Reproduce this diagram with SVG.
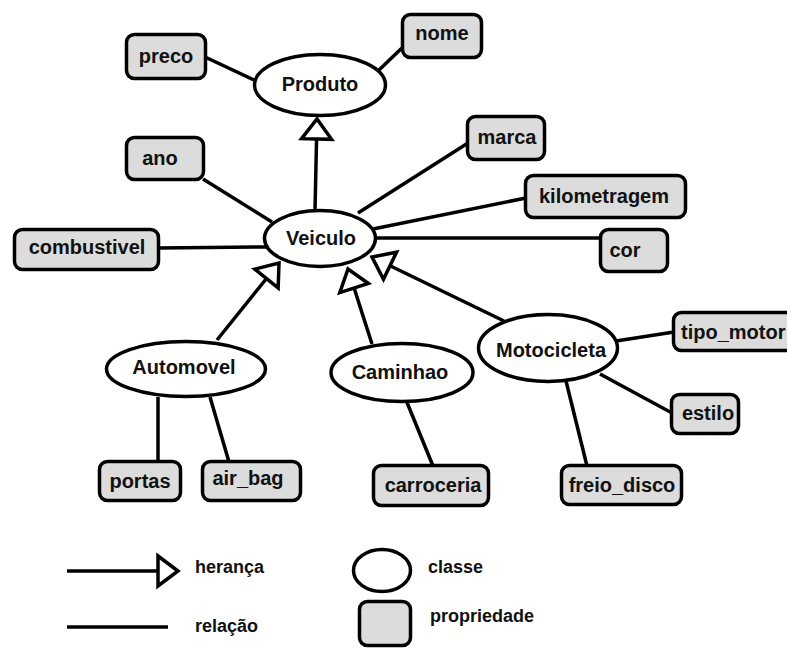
<svg xmlns="http://www.w3.org/2000/svg" width="787" height="648" viewBox="0 0 787 648">
  <style>
    .cls ellipse { fill: #ffffff; stroke: #000000; stroke-width: 3.5; }
    .prop rect { fill: #dcdcdc; stroke: #000000; stroke-width: 3.5; }
    text { font-family: "Liberation Sans", Arial, sans-serif; font-weight: bold; font-size: 20px; fill: #111111; }
    .legend text { font-size: 18px; }
    .edges line { stroke: #000000; stroke-width: 3.5; fill: none; }
    .inh { marker-end: url(#hollow); }
  </style>
  <defs>
    <marker id="hollow" markerUnits="userSpaceOnUse" viewBox="-3 -19 26 38" markerWidth="26" markerHeight="38" refX="20" refY="0" orient="auto">
      <path d="M0,-15 L20,0 L0,15 Z" fill="#ffffff" stroke="#000000" stroke-width="3.5" stroke-linejoin="miter"/>
    </marker>
  </defs>

  <rect width="787" height="648" fill="#ffffff"/>

  <!-- connectors -->
  <g class="edges">
    <line x1="205" y1="57" x2="256" y2="81"/>
    <line x1="403" y1="47" x2="379" y2="70"/>
    <line class="inh" x1="315" y1="210" x2="317" y2="119"/>
    <line x1="203" y1="179" x2="272" y2="222"/>
    <line x1="158" y1="248" x2="266" y2="247"/>
    <line x1="468" y1="143" x2="358" y2="213"/>
    <line x1="526" y1="198" x2="373" y2="229"/>
    <line x1="601" y1="238" x2="375" y2="238"/>
    <line class="inh" x1="217" y1="340" x2="279" y2="263"/>
    <line class="inh" x1="372" y1="344" x2="348" y2="269"/>
    <line class="inh" x1="504" y1="321" x2="372" y2="257"/>
    <line x1="158" y1="397" x2="158" y2="462"/>
    <line x1="210" y1="397" x2="229" y2="462"/>
    <line x1="406" y1="400" x2="433" y2="466"/>
    <line x1="616" y1="341" x2="674" y2="332"/>
    <line x1="600" y1="374" x2="672" y2="413"/>
    <line x1="566" y1="381" x2="587" y2="466"/>
  </g>

  <!-- classes -->
  <g id="produto" class="cls">
    <ellipse cx="320" cy="85" rx="65.5" ry="30.5"/>
    <text x="320" y="91" text-anchor="middle">Produto</text>
  </g>
  <g id="veiculo" class="cls">
    <ellipse cx="320" cy="238.5" rx="55.5" ry="28"/>
    <text x="321" y="245" text-anchor="middle">Veiculo</text>
  </g>
  <g id="automovel" class="cls">
    <ellipse cx="186" cy="369" rx="79.5" ry="27.5"/>
    <text x="184" y="374" text-anchor="middle">Automovel</text>
  </g>
  <g id="caminhao" class="cls">
    <ellipse cx="402" cy="372.5" rx="71" ry="29"/>
    <text x="400" y="379" text-anchor="middle">Caminhao</text>
  </g>
  <g id="motocicleta" class="cls">
    <ellipse cx="548" cy="348" rx="69.5" ry="33.5"/>
    <text x="551" y="357" text-anchor="middle">Motocicleta</text>
  </g>

  <!-- properties -->
  <g id="preco" class="prop">
    <rect x="126.5" y="34.5" width="79" height="44" rx="8"/>
    <text x="166" y="63" text-anchor="middle">preco</text>
  </g>
  <g id="nome" class="prop">
    <rect x="402.5" y="14.5" width="79" height="43" rx="8"/>
    <text x="442" y="40" text-anchor="middle">nome</text>
  </g>
  <g id="ano" class="prop">
    <rect x="126.5" y="137.5" width="77" height="42" rx="8"/>
    <text x="160" y="165" text-anchor="middle">ano</text>
  </g>
  <g id="combustivel" class="prop">
    <rect x="14.5" y="229.5" width="144" height="40" rx="8"/>
    <text x="87" y="254" text-anchor="middle">combustivel</text>
  </g>
  <g id="marca" class="prop">
    <rect x="467.5" y="116.5" width="77" height="43" rx="8"/>
    <text x="507" y="144" text-anchor="middle">marca</text>
  </g>
  <g id="kilometragem" class="prop">
    <rect x="525.5" y="175.5" width="160" height="42" rx="8"/>
    <text x="604" y="203" text-anchor="middle">kilometragem</text>
  </g>
  <g id="cor" class="prop">
    <rect x="600.5" y="229.5" width="67" height="42" rx="8"/>
    <text x="625" y="257" text-anchor="middle">cor</text>
  </g>
  <g id="portas" class="prop">
    <rect x="99.5" y="461.5" width="81" height="39" rx="8"/>
    <text x="140" y="488" text-anchor="middle">portas</text>
  </g>
  <g id="air_bag" class="prop">
    <rect x="202.5" y="461.5" width="98" height="39" rx="8"/>
    <text x="248" y="485" text-anchor="middle">air_bag</text>
  </g>
  <g id="carroceria" class="prop">
    <rect x="373.5" y="465.5" width="115" height="40" rx="8"/>
    <text x="433" y="492" text-anchor="middle">carroceria</text>
  </g>
  <g id="tipo_motor" class="prop">
    <rect x="673.5" y="312.5" width="130" height="38" rx="8"/>
    <text x="681" y="339">tipo_motor</text>
  </g>
  <g id="estilo" class="prop">
    <rect x="671.5" y="394.5" width="67" height="39" rx="8"/>
    <text x="708" y="420" text-anchor="middle">estilo</text>
  </g>
  <g id="freio_disco" class="prop">
    <rect x="561.5" y="465.5" width="120" height="39" rx="8"/>
    <text x="622" y="492" text-anchor="middle">freio_disco</text>
  </g>

  <!-- legend -->
  <g id="legend" class="legend">
    <g class="edges">
      <line class="inh" x1="67" y1="571" x2="178" y2="571"/>
      <line x1="67" y1="627" x2="168" y2="627"/>
    </g>
    <text x="195" y="573">herança</text>
    <text x="195" y="632">relação</text>
    <g class="cls">
      <ellipse cx="382" cy="570.5" rx="28.5" ry="21"/>
    </g>
    <text x="428" y="573">classe</text>
    <g class="prop">
      <rect x="359.5" y="601.5" width="51" height="44" rx="8"/>
    </g>
    <text x="430" y="622">propriedade</text>
  </g>
</svg>
